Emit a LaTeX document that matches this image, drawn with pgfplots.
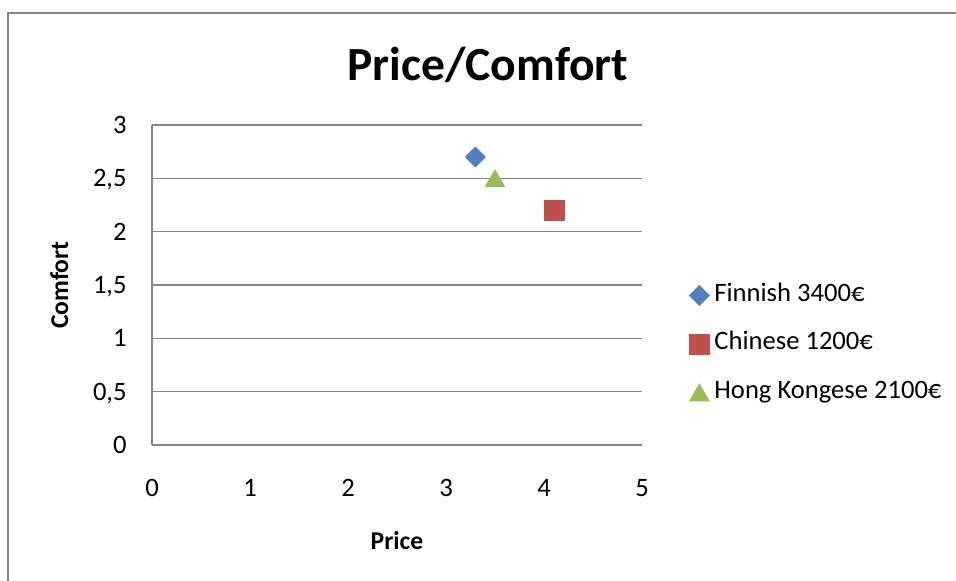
\documentclass[border=0pt]{standalone}
\usepackage{pgfplots}
\pgfplotsset{compat=1.18}
\usepackage{fontspec}
\setmainfont{Carlito}
\definecolor{exblue}{HTML}{4F81BD}
\definecolor{exred}{HTML}{C0504D}
\definecolor{exgreen}{HTML}{9BBB59}
\definecolor{exgray}{HTML}{868686}
\begin{document}
\begin{tikzpicture}
\useasboundingbox (0,0) rectangle (478pt,290.5pt);
\draw[exgray, line width=1pt] (4pt,0pt) -- (4pt,284pt) -- (478pt,284pt);
\begin{axis}[
  at={(76pt,68pt)}, anchor=south west,
  scale only axis, width=245pt, height=160pt,
  xmin=0, xmax=5, ymin=0, ymax=3,
  xtick={0,1,2,3,4,5}, ytick={0,0.5,1,1.5,2,2.5,3},
  xticklabels={0,1,2,3,4,5},
  yticklabels={0,{0,5},1,{1,5},2,{2,5},3},
  axis lines=left, axis line style={-, exgray, line width=1pt},
  ymajorgrids, grid style={exgray, line width=0.6pt},
  major tick length=0pt,
  tick label style={font=\fontsize{13.3}{15}\selectfont},
  xticklabel style={anchor=base, yshift=-26pt, inner sep=0pt},
  yticklabel style={anchor=base east, xshift=-12.5pt, yshift=-4.2pt, inner sep=0pt},
  title={Price/Comfort},
  title style={at={(0.6857,1.103)}, anchor=base, font=\bfseries\fontsize{23.8}{28}\selectfont},
  xlabel={Price},
  xlabel style={at={(0.5,-0.3266)}, anchor=base, font=\bfseries\fontsize{12.8}{14}\selectfont},
  ylabel={Comfort},
  ylabel style={at={(-0.1714,0.5)}, anchor=base, rotate=0, font=\bfseries\fontsize{12.8}{14}\selectfont},
  legend style={at={(1.0959,0.506)}, anchor=north west, draw=none, fill=none,
    font=\fontsize{13.3}{15}\selectfont, row sep=12.25pt, column sep=2.5pt, inner sep=0pt,
    nodes={inner sep=0pt, text height=9pt, text depth=3pt}},
  legend cell align=left,
  legend image code/.code={\draw[mark repeat=2,mark phase=2] plot coordinates {(0pt,0pt) (5pt,0pt) (10pt,0pt)};},
]
\addplot[only marks, mark=square*, mark size=3.54pt, color=exblue, mark options={rotate=45, line width=0.3pt}] coordinates {(3.3,2.7)};
\addlegendentry{Finnish 3400€}
\addplot[only marks, mark=square*, mark size=5pt, color=exred, mark options={line width=0.3pt}] coordinates {(4.1,2.2)};
\addlegendentry{Chinese 1200€}
\addplot[only marks, mark=triangle*, mark size=5.7pt, color=exgreen, mark options={line width=0.3pt, yshift=-1.4pt}] coordinates {(3.5,2.5)};
\addlegendentry{Hong Kongese 2100€}
\end{axis}
\end{tikzpicture}
\end{document}
